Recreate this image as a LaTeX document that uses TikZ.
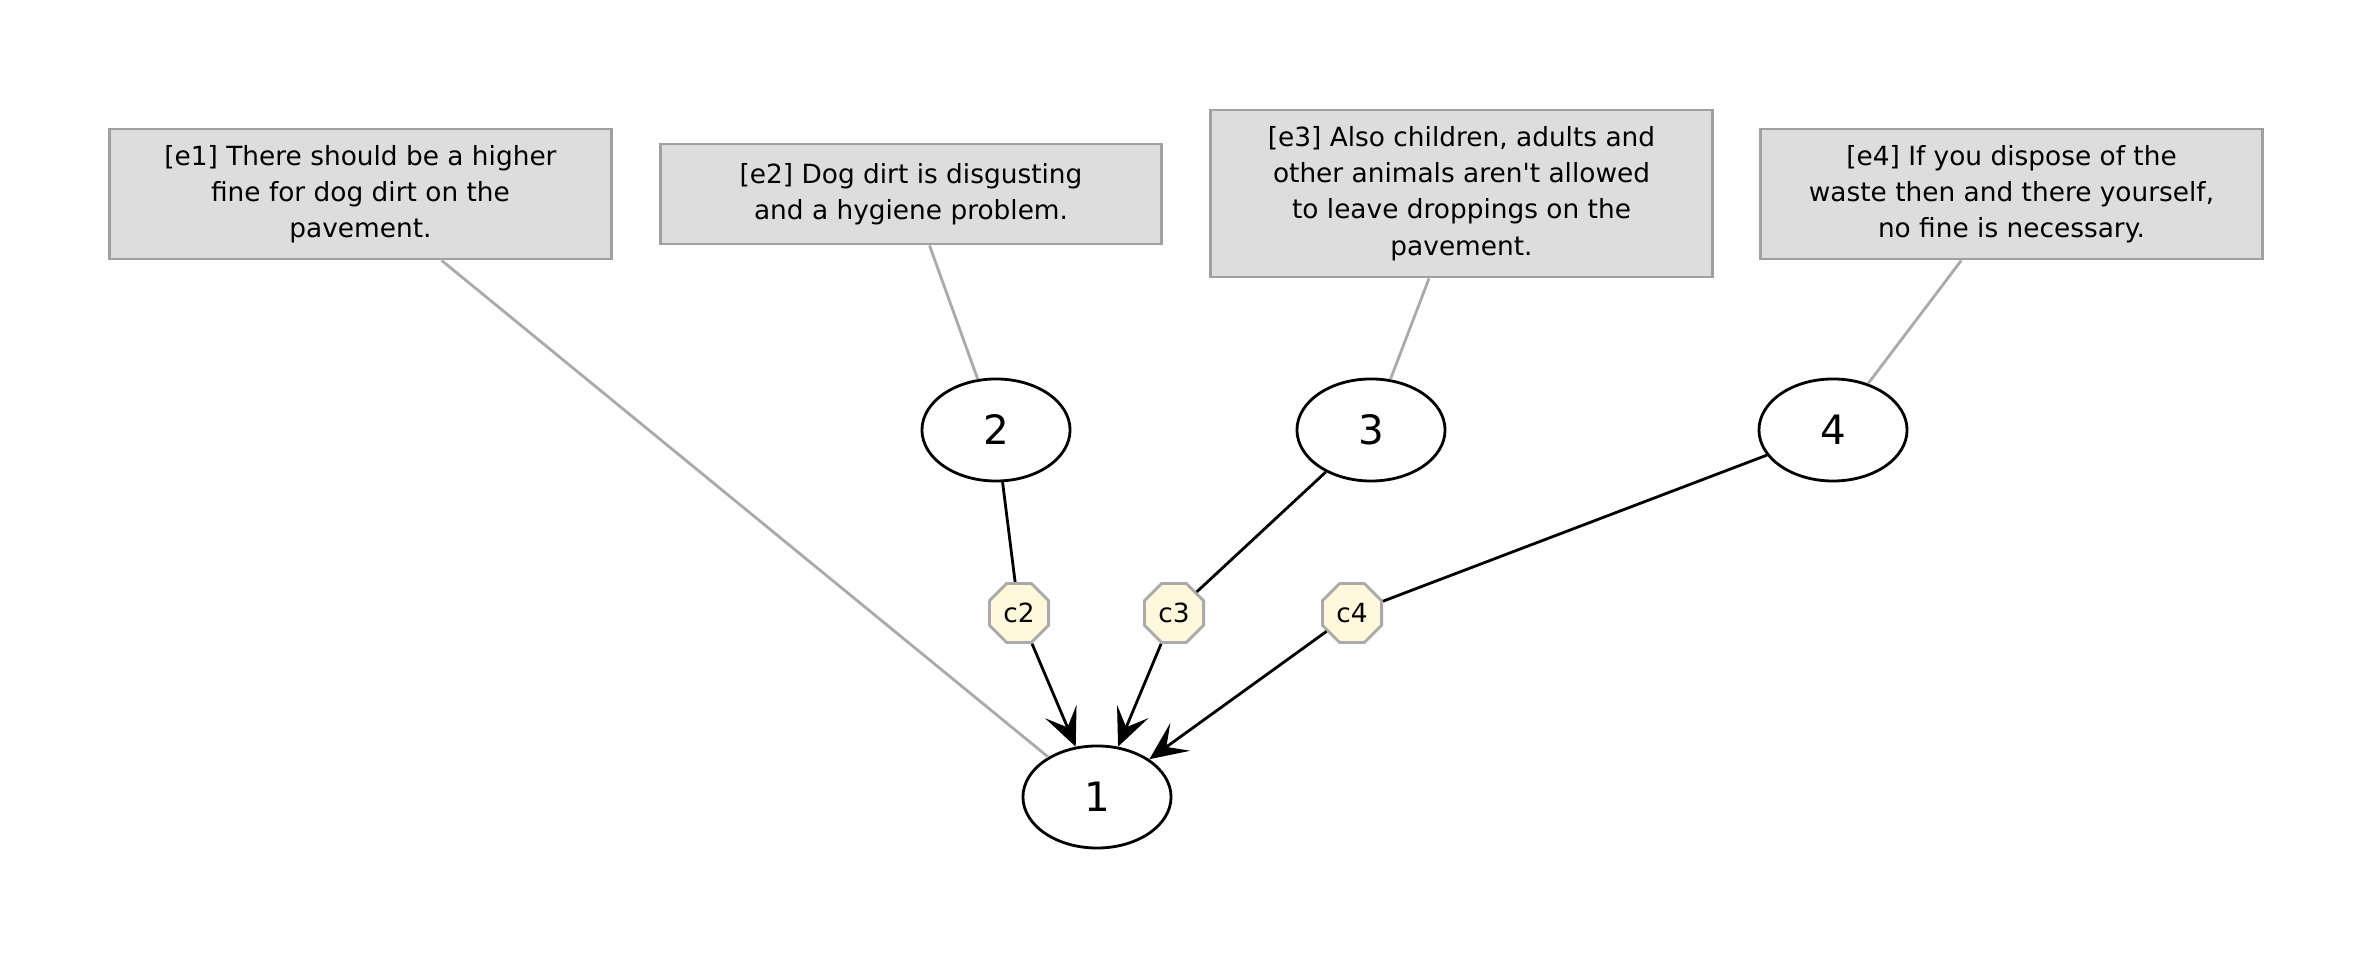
\documentclass[tikz,border=0pt]{standalone}
\usepackage{fontspec}
\setmainfont{DejaVu Sans}
\usetikzlibrary{shapes.geometric,arrows.meta}
\definecolor{boxfill}{HTML}{DDDDDD}
\definecolor{boxdraw}{HTML}{A0A0A0}
\definecolor{linkgray}{HTML}{AAAAAA}
\definecolor{octfill}{HTML}{FFF8DC}
\begin{document}
\begin{tikzpicture}[x=0.01cm,y=-0.01cm,
  evbox/.style={draw=boxdraw,fill=boxfill,line width=0.8pt,rectangle,minimum width=5.01cm,align=center,inner sep=0pt,font=\fontsize{7.5}{10.3}\selectfont},
  claim/.style={draw,ellipse,line width=0.8pt,minimum width=1.48cm,minimum height=1.02cm,inner sep=0pt,font=\fontsize{11.5}{13}\selectfont},
  conn/.style={draw=linkgray,fill=octfill,regular polygon,regular polygon sides=8,minimum size=0.64cm,inner sep=0pt,line width=0.8pt,font=\fontsize{7.5}{9}\selectfont},
  evlink/.style={draw=linkgray,line width=0.8pt},
  sup/.style={draw=black,line width=0.8pt},
  arr/.style={draw=black,line width=0.8pt,-{Stealth[length=0.38cm,width=0.34cm,inset=0.17cm]}}]
\useasboundingbox (0,0) rectangle (2373,962);
\node[evbox,minimum height=1.30cm] (e1) at (360.5,194) {[e1] There should be a higher\\fine for dog dirt on the\\pavement.};
\node[evbox,minimum height=1.00cm] (e2) at (911,194) {[e2] Dog dirt is disgusting\\and a hygiene problem.};
\node[evbox,minimum height=1.67cm] (e3) at (1461.5,193.5) {[e3] Also children, adults and\\other animals aren\textquotesingle t allowed\\to leave droppings on the\\pavement.};
\node[evbox,minimum height=1.30cm] (e4) at (2011.5,194) {[e4] If you dispose of the\\waste then and there yourself,\\no fine is necessary.};
\node[claim] (n2) at (996,430) {2};
\node[claim] (n3) at (1371,430) {3};
\node[claim] (n4) at (1833,430) {4};
\node[claim] (n1) at (1097,797) {1};
\node[conn] (c2) at (1019,613) {c2};
\node[conn] (c3) at (1174,613) {c3};
\node[conn] (c4) at (1352,613) {c4};
\draw[evlink] (e1) -- (n1);
\draw[evlink] (e2) -- (n2);
\draw[evlink] (e3) -- (n3);
\draw[evlink] (e4) -- (n4);
\draw[sup] (n2) -- (c2);
\draw[sup] (n3) -- (c3);
\draw[sup] (n4) -- (c4);
\draw[arr] (c2) -- (n1);
\draw[arr] (c3) -- (n1);
\draw[arr] (c4) -- (n1);
\end{tikzpicture}
\end{document}
